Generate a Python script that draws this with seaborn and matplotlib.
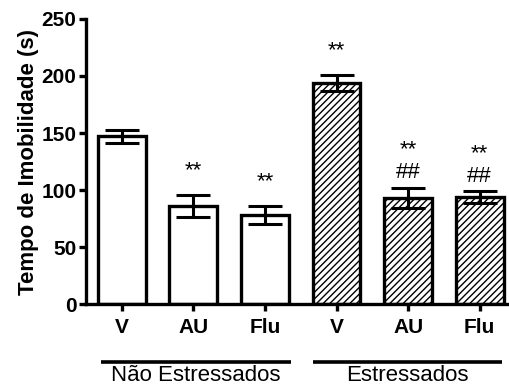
import numpy as np
import matplotlib
matplotlib.use("Agg")
import matplotlib.pyplot as plt
import matplotlib.transforms as mtransforms
import seaborn as sns

# dados
labels = ["V", "AU", "Flu", "V", "AU", "Flu"]
keys = ["V_ne", "AU_ne", "Flu_ne", "V_e", "AU_e", "Flu_e"]
means = [147, 86, 78, 194, 93, 94]
sems = [6, 10, 8, 7, 9, 5]
stars = ["", "**", "**", "**", "**", "**"]
hashes = ["", "", "", "", "##", "##"]
groups = ["Não Estressados", "Estressados"]

sns.set_style("ticks")
plt.rcParams['font.family'] = ['Liberation Sans', 'DejaVu Sans']
plt.rcParams['hatch.linewidth'] = 1.0
for k in ["text.color", "axes.labelcolor", "xtick.color", "ytick.color", "axes.edgecolor"]:
    plt.rcParams[k] = "black"

fig = plt.figure(figsize=(5.09, 3.86), dpi=100)
ax = fig.add_axes([0.169, 0.2124, 0.831, 0.7384])

sns.barplot(x=keys, y=means, color="white", edgecolor="black", linewidth=2.4,
            width=0.67, errorbar=None, ax=ax)
for i, p in enumerate(ax.patches):
    if i >= 3:
        p.set_hatch("/////")

x = np.arange(len(means))
ax.errorbar(x, means, yerr=sems, fmt="none", ecolor="black", elinewidth=2.2,
            capsize=12, capthick=2.2, zorder=5)

for i in range(len(means)):
    top = means[i] + sems[i]
    if hashes[i]:
        ax.text(x[i], top + 13, hashes[i], ha="center", va="center", fontsize=16)
        ax.text(x[i], top + 33, stars[i], ha="center", va="center", fontsize=16)
    elif stars[i]:
        ax.text(x[i], top + 21, stars[i], ha="center", va="center", fontsize=16)

ax.set_ylim(0, 250)
ax.set_xlim(-0.5, 5.41)
ax.set_yticks([0, 50, 100, 150, 200, 250])
ax.set_xticks(x)
ax.set_xticklabels(labels)
for t in ax.get_xticklabels() + ax.get_yticklabels():
    t.set_fontweight("bold")
    t.set_fontsize(15)
ax.tick_params(width=2.4, length=5, pad=2)
ax.tick_params(axis="x", pad=5)
ax.set_ylabel("Tempo de Imobilidade (s)", fontsize=16, fontweight="bold", labelpad=2)
ax.set_xlabel("")
sns.despine(ax=ax)
for s in ["left", "bottom"]:
    ax.spines[s].set_linewidth(2.4)

# linhas dos grupos
trans = mtransforms.blended_transform_factory(ax.transData, ax.transAxes)
spans = [(-0.29, 2.36), (2.67, 5.31)]
for (a, b), g in zip(spans, groups):
    ax.plot([a, b], [-0.2035, -0.2035], color="black", lw=2.6, transform=trans,
            clip_on=False, solid_capstyle="butt")
    ax.text((a + b) / 2, -0.215, g, transform=trans, ha="center", va="top", fontsize=16)

fig.savefig("out.png", dpi=100)
